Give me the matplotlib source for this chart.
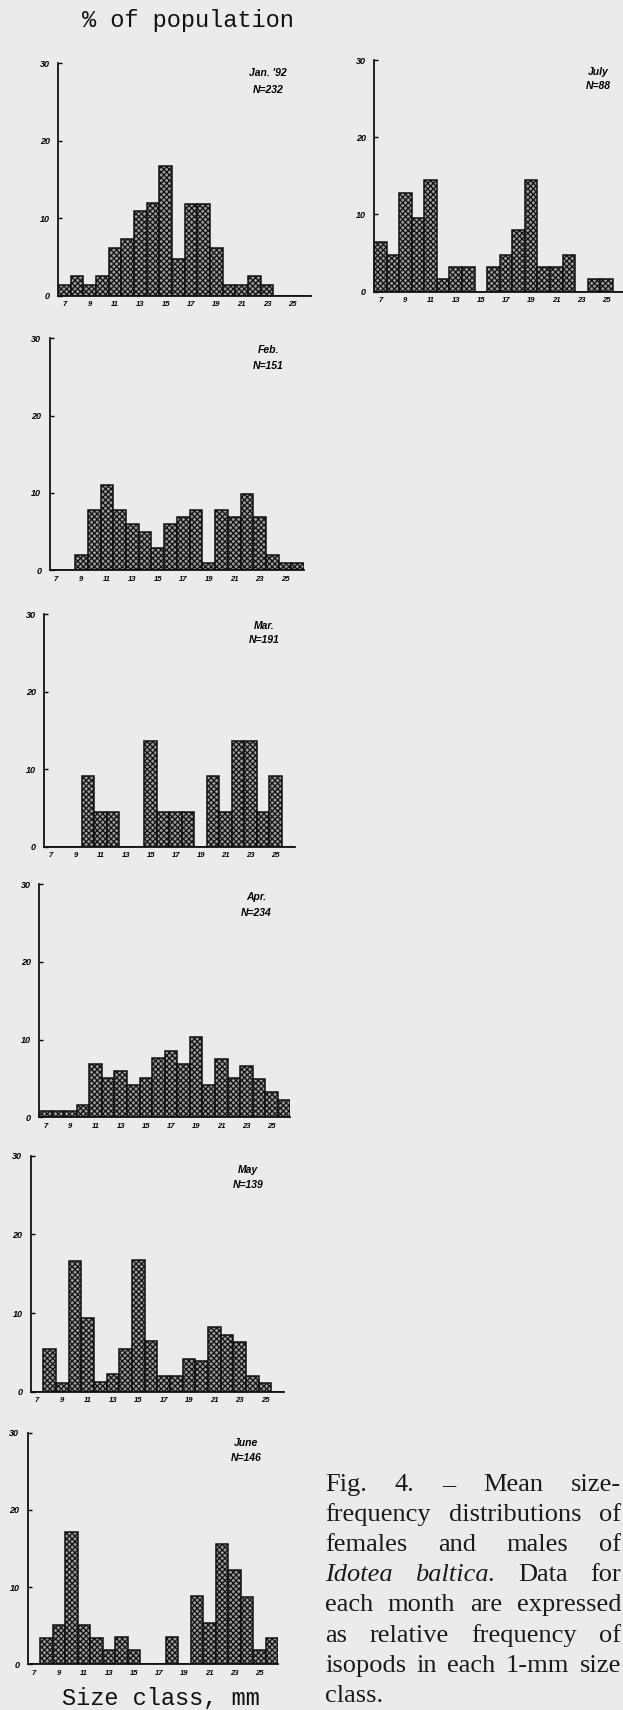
import matplotlib
matplotlib.use("Agg")
import matplotlib.pyplot as plt

# ===============================
# Data, % of population per 1-mm size class
# ===============================
size_class = list(range(7, 27))
tick_classes = [7, 9, 11, 13, 15, 17, 19, 21, 23, 25]
tick_labels = [str(c) for c in tick_classes]
y_ticks = [0, 10, 20, 30]

months = ["Jan. '92", "July", "Feb.", "Mar.", "Apr.", "May", "June"]
n_counts = [232, 88, 151, 191, 234, 139, 146]

pct_jan = [1.4, 2.5, 1.4, 2.5, 6.1, 7.3, 10.9, 12.0, 16.8, 4.8,
           11.9, 11.9, 6.1, 1.4, 1.4, 2.5, 1.4, 0, 0, 0]
pct_jul = [6.4, 4.8, 12.8, 9.6, 14.4, 1.6, 3.2, 3.2, 0, 3.2,
           4.8, 8.0, 14.4, 3.2, 3.2, 4.8, 0, 1.6, 1.6, 0]
pct_feb = [0, 0, 1.9, 7.8, 11.0, 7.8, 5.9, 4.9, 2.9, 5.9,
           6.9, 7.8, 0.95, 7.8, 6.9, 9.8, 6.9, 1.9, 0.95, 0.95]
pct_mar = [0, 0, 0, 9.1, 4.5, 4.5, 0, 0, 13.7, 4.5,
           4.5, 4.5, 0, 9.1, 4.5, 13.7, 13.7, 4.5, 9.1, 0]
pct_apr = [0.86, 0.86, 0.86, 1.6, 6.8, 5.1, 5.9, 4.2, 5.0, 7.6,
           8.5, 6.8, 10.3, 4.2, 7.5, 5.0, 6.6, 4.9, 3.2, 2.2]
pct_may = [0, 5.4, 1.1, 16.6, 9.4, 1.2, 2.2, 5.4, 16.7, 6.4,
           2.0, 2.0, 4.2, 3.9, 8.2, 7.2, 6.3, 2.0, 1.1, 0]
pct_jun = [0, 3.4, 5.1, 17.2, 5.1, 3.4, 1.8, 3.5, 1.9, 0,
           0, 3.6, 0, 8.9, 5.4, 15.6, 12.2, 8.75, 1.8, 3.4]

series = [pct_jan, pct_jul, pct_feb, pct_mar, pct_apr, pct_may, pct_jun]

caption_lines = [
    "Fig. 4. \u2013 Mean size-",
    "frequency distributions of",
    "females and males of",
    "Idotea baltica. Data for",
    "each month are expressed",
    "as relative frequency of",
    "isopods in each 1-mm size",
    "class.",
]
italic_words = {"Idotea", "baltica."}

# ===============================
# Layout (pixels on the 623 x 1710 page)
# ===============================
W, H = 623, 1710
DPI = 100
PAPER = "#ebebe9"

# x of class 6.5, x of class 26.5, y of 0 %, y of 30 %
panel_box = [
    (58.0, 311.4, 295.7, 63.3),
    (374.0, 625.4, 291.7, 60.0),
    (49.6, 304.2, 570.0, 338.3),
    (44.4, 294.5, 846.7, 614.3),
    (39.0, 290.4, 1117.3, 884.0),
    (30.7, 284.0, 1391.7, 1155.6),
    (27.7, 278.3, 1664.3, 1432.7),
]
# centre x, y of month line, y of N line
label_pos = [
    (268, 73, 90),
    (598, 72, 86),
    (268, 350, 366),
    (264, 626, 640),
    (256, 897, 913),
    (248, 1170, 1185),
    (246, 1443, 1458),
]


def fx(x):
    return x / W


def fy(y):
    return 1 - y / H


plt.rcParams["hatch.linewidth"] = 0.9
fig = plt.figure(figsize=(W / DPI, H / DPI), dpi=DPI, facecolor=PAPER)

tick_font = dict(family="Liberation Sans", weight="bold", style="italic")

for vals, box, lab, month, n in zip(series, panel_box, label_pos, months, n_counts):
    x0, x1, y0, y30 = box
    ax = fig.add_axes([fx(x0), fy(y0), (x1 - x0) / W, (y0 - y30) / H])
    ax.set_facecolor("none")
    ax.bar(size_class, vals, width=1.0, facecolor="#9c9c9c", edgecolor="#111111",
           hatch="xxxxxx", linewidth=1.1)
    ax.set_xlim(6.5, 26.5)
    ax.set_ylim(0, 30)
    for side in ["top", "right"]:
        ax.spines[side].set_visible(False)
    for side in ["left", "bottom"]:
        ax.spines[side].set_linewidth(1.3)
        ax.spines[side].set_color("#111111")
    ax.set_yticks(y_ticks)
    ax.set_yticklabels([str(v) for v in y_ticks], fontsize=6.5, **tick_font)
    ax.set_xticks(tick_classes)
    ax.set_xticklabels(tick_labels, fontsize=5.5, **tick_font)
    ax.tick_params(axis="y", direction="in", length=3, width=1, pad=6)
    ax.tick_params(axis="x", length=0, pad=4)

    cx, ym, yn = lab
    fig.text(fx(cx), fy(ym), month, ha="center", va="center", fontsize=7.5,
             **tick_font)
    fig.text(fx(cx), fy(yn), f"N={n}", ha="center", va="center", fontsize=7.5,
             **tick_font)

# ===============================
# Axis titles in typewriter face
# ===============================
fig.text(fx(188), fy(20), "% of population", ha="center", va="center",
         fontsize=17, family="Liberation Mono", color="#111111")
fig.text(fx(161), fy(1698), "Size class, mm", ha="center", va="center",
         fontsize=17, family="Liberation Mono", color="#111111")

# ===============================
# Justified caption
# ===============================
cap_left, cap_right = 325, 621
base0, step = 1491, 30.1
renderer = fig.canvas.get_renderer()
for i, line in enumerate(caption_lines):
    words = line.split()
    y = fy(base0 + i * step)
    arts = []
    for w in words:
        t = fig.text(0, y, w, fontsize=19, family="Liberation Serif",
                     style="italic" if w in italic_words else "normal",
                     va="baseline", ha="left", color="#1a1a1a")
        arts.append(t)
    widths = [t.get_window_extent(renderer).width for t in arts]
    if i == len(caption_lines) - 1 or len(words) == 1:
        gap = 5
    else:
        gap = (cap_right - cap_left - sum(widths)) / (len(words) - 1)
    x = cap_left
    for t, w in zip(arts, widths):
        t.set_x(fx(x))
        x += w + gap

fig.savefig("out.png", dpi=DPI, facecolor=PAPER)
